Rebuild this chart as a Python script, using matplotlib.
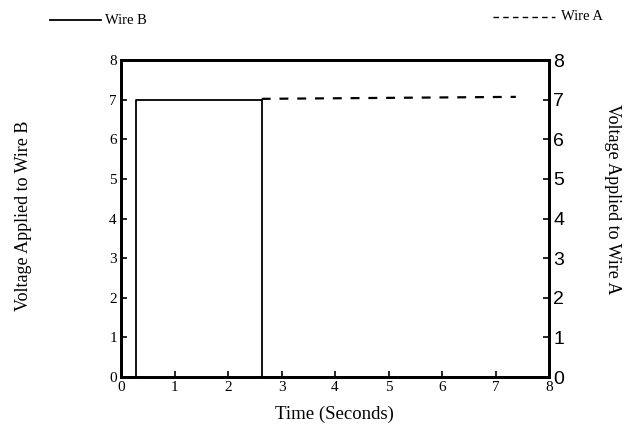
import matplotlib
matplotlib.use("Agg")
from matplotlib import pyplot as plt

# pulse on wire B, then wire A takes over
wire_b_time = [0, 0.28, 0.28, 2.63, 2.63, 8]
wire_b_volts = [0, 0, 7, 7, 0, 0]
wire_a_time = [2.63, 7.38]
wire_a_volts = [7.02, 7.07]
ticks = [0, 1, 2, 3, 4, 5, 6, 7, 8]

serif = "Liberation Serif"

fig = plt.figure(figsize=(6.27, 4.29), dpi=100)
ax = fig.add_axes([0.193, 0.1212, 0.6826, 0.7389])

ax.plot(wire_b_time, wire_b_volts, color="black", lw=1.3)
ax.plot(wire_a_time, wire_a_volts, color="black", lw=1.6, dashes=(4, 4))

ax.set_xlim(0, 8)
ax.set_ylim(0, 8)
ax.set_xticks(ticks)
ax.set_yticks(ticks)
ax.set_xticklabels([str(t) for t in ticks], family=serif, fontsize=11)
ax.set_yticklabels([str(t) for t in ticks], family=serif, fontsize=11)
ax.tick_params(direction="in", length=4, width=1.2, pad=3)
for sp in ax.spines.values():
    sp.set_linewidth(2)

ax2 = ax.twinx()
ax2.set_ylim(0, 8)
ax2.set_yticks(ticks)
ax2.set_yticklabels([str(t) for t in ticks], family="Liberation Sans", fontsize=14)
ax2.tick_params(direction="in", length=4, width=1.2, pad=3)
for sp in ax2.spines.values():
    sp.set_linewidth(2)

ax.set_xlabel("Time (Seconds)", family=serif, fontsize=13.5, va="center")
ax.xaxis.set_label_coords(0.498, -0.118)
ax.set_ylabel("Voltage Applied to Wire B", family=serif, fontsize=13,
              ha="center", va="center")
ax.yaxis.set_label_coords(-0.228, 0.508)
ax2.set_ylabel("Voltage Applied to Wire A", family=serif, fontsize=13,
               rotation=-90, ha="center", va="center")
ax2.yaxis.set_label_coords(1.149, 0.56)

# key across the top
fig.add_artist(plt.Line2D([50 / 627, 101 / 627], [1 - 20 / 429] * 2,
                          color="black", lw=1.3))
fig.text(105 / 627, 1 - 20 / 429, "Wire B", family=serif, fontsize=10.5, va="center")
fig.add_artist(plt.Line2D([493 / 627, 555 / 627], [1 - 17 / 429] * 2,
                          color="black", lw=1, dashes=(4, 3)))
fig.text(561 / 627, 1 - 17 / 429, "Wire A", family=serif, fontsize=10.5, va="center")

fig.savefig("out.png", dpi=100)
